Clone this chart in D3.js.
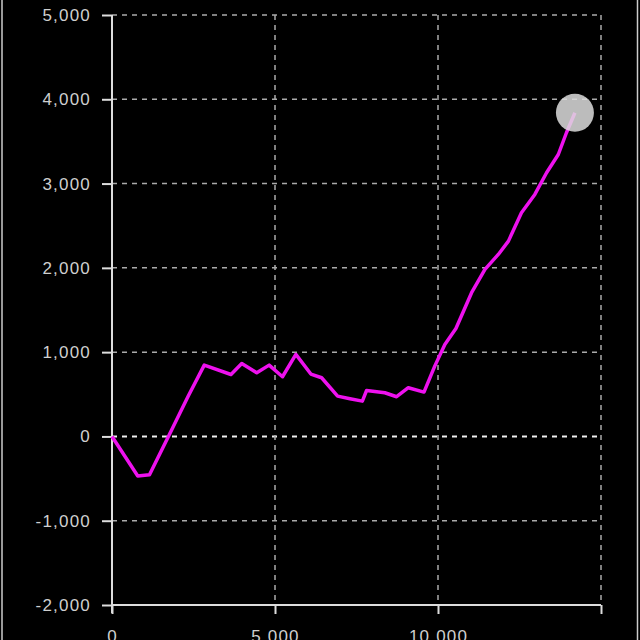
<!DOCTYPE html>
<html>
<head>
<meta charset="utf-8">
<script src="https://cdn.jsdelivr.net/npm/d3@7"></script>
<style>
  html, body { margin: 0; padding: 0; background: #000; }
  svg { display: block; }
</style>
</head>
<body>
<svg id="chart" width="640" height="640"></svg>
<script>
// ---- data ----
const games = [0, 790, 1150, 1730, 2340, 2830, 3650, 3980, 4440, 4820, 5230, 5640, 6100, 6430, 6920, 7300, 7680, 7810, 8370, 8730, 9090, 9570, 9900, 10210, 10550, 11030, 11440, 11850, 12160, 12560, 12970, 13330, 13690, 13940, 14200];
const diffs = [0, -470, -455, 0, 480, 846, 735, 866, 755, 846, 708, 973, 740, 696, 478, 447, 419, 546, 518, 471, 578, 526, 834, 1091, 1280, 1705, 1981, 2159, 2317, 2654, 2871, 3128, 3345, 3603, 3840];
const yTicks = [-2000, -1000, 0, 1000, 2000, 3000, 4000, 5000];
const xTicks = [0, 5000, 10000, 15000];
const xLabelled = [0, 5000, 10000];

const svg = d3.select("#chart");
const W = 640, H = 640;
const mLeft = 112, mRight = 601, mTop = 15, mBottom = 605;

const x = d3.scaleLinear().domain([0, 15000]).range([mLeft, mRight]);
const y = d3.scaleLinear().domain([-2000, 5000]).range([mBottom, mTop]);
const locale = d3.formatLocale({decimal: ".", thousands: ",", grouping: [3], currency: ["", ""], minus: "-"});
const fmt = locale.format(",");

svg.append("rect").attr("width", W).attr("height", H).attr("fill", "#000");

// frame side lines
svg.append("line").attr("x1", 2).attr("x2", 2).attr("y1", 0).attr("y2", H)
  .attr("stroke", "#ccc").attr("stroke-width", 1.5);
svg.append("line").attr("x1", 637.5).attr("x2", 637.5).attr("y1", 0).attr("y2", H)
  .attr("stroke", "#ccc").attr("stroke-width", 1.5);

// horizontal grid
svg.append("g").selectAll("line").data(yTicks.filter(d => d !== -2000)).join("line")
  .attr("x1", mLeft).attr("x2", mRight)
  .attr("y1", d => y(d)).attr("y2", d => y(d))
  .attr("stroke", d => d === 0 ? "#eee" : "#aaa")
  .attr("stroke-width", d => d === 0 ? 2 : 1.5)
  .attr("stroke-dasharray", "5,5");

// vertical grid
svg.append("g").selectAll("line").data(xTicks.filter(d => d !== 0)).join("line")
  .attr("x1", d => x(d)).attr("x2", d => x(d))
  .attr("y1", mTop).attr("y2", mBottom)
  .attr("stroke", "#aaa").attr("stroke-width", 1.5)
  .attr("stroke-dasharray", "5,5");

// y axis
const yAxis = svg.append("g").attr("transform", `translate(${mLeft},0)`)
  .call(d3.axisLeft(y).tickValues(yTicks).tickFormat(fmt).tickSize(10).tickPadding(11));
// x axis
const xAxis = svg.append("g").attr("transform", `translate(0,${mBottom})`)
  .call(d3.axisBottom(x).tickValues(xTicks)
    .tickFormat(d => xLabelled.includes(d) ? fmt(d) : "")
    .tickSize(9).tickPadding(16));

[yAxis, xAxis].forEach(g => {
  g.select(".domain").attr("stroke", "#ddd").attr("stroke-width", 2);
  g.selectAll(".tick line").attr("stroke", "#ddd").attr("stroke-width", 2);
  g.selectAll("text").attr("fill", "#cfcfcf")
    .style("font-family", "'Liberation Sans', Arial, sans-serif")
    .style("font-size", "17px").style("letter-spacing", "1.2px");
});
yAxis.select(".domain").attr("d", `M0,${mTop}V${mBottom + 8}`);
xAxis.select(".domain").attr("d", `M${mLeft},0H${mRight}`);

// line
const line = d3.line().x((d, i) => x(games[i])).y(d => y(d));
svg.append("path").datum(diffs)
  .attr("d", line)
  .attr("fill", "none")
  .attr("stroke", "#ee11ee")
  .attr("stroke-width", 3.5)
  .attr("stroke-linejoin", "round");

// end marker
const last = diffs.length - 1;
svg.append("circle")
  .attr("cx", x(games[last])).attr("cy", y(diffs[last]))
  .attr("r", 19)
  .attr("fill", "#ddd").attr("fill-opacity", 0.85);
</script>
</body>
</html>
